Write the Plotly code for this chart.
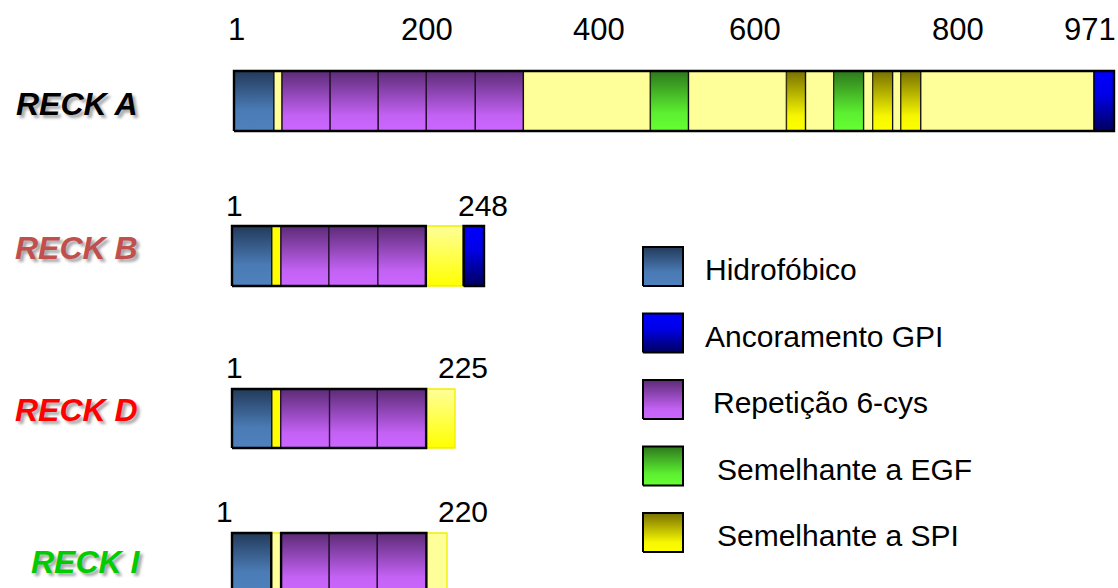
import plotly.graph_objects as go

W, H = 1118, 588
OFF = 0
FONT = "Liberation Sans, Arial, Helvetica, sans-serif"

# ---------------- data ----------------
protein_names = ["RECK A", "RECK B", "RECK D", "RECK I"]
protein_colors = ["#000000", "#c0504d", "#ff0000", "#00cc00"]
protein_lengths = [971, 248, 225, 220]

# domain boundaries (aa) and domain types
# H hidrofóbico, G GPI, C 6-cys, E EGF, S SPI, L/B/Y/P yellow linker regions
reck_a_bounds = [1, 45, 54, 107, 160, 213, 267, 320, 460, 502, 610, 631, 662,
                 695, 705, 727, 736, 758, 949, 971]
reck_a_types = ["H", "L", "C", "C", "C", "C", "C", "L", "E", "L", "S", "L",
                "E", "L", "S", "L", "S", "L", "G"]
reck_b_bounds = [1, 40, 49, 96, 144, 191, 228, 248]
reck_b_types = ["H", "B", "C", "C", "C", "Y", "G"]
reck_d_bounds = [1, 41, 50, 99, 147, 196, 225]
reck_d_types = ["H", "B", "C", "C", "C", "Y"]
reck_i_bounds = [1, 41, 51, 100, 149, 199, 220]
reck_i_types = ["H", "P", "C", "C", "C", "P"]

# scale labels above RECK A (label text, position on the aa axis)
scale_labels = ["1", "200", "400", "600", "800", "971"]
scale_label_pos = [4, 214, 403, 575, 799, 945]

legend_names = ["Hidrofóbico", "Ancoramento GPI", "Repetição 6-cys",
                "Semelhante a EGF", "Semelhante a SPI"]
legend_types = ["H", "G", "C", "E", "S"]

# ---------------- styles ----------------
STYLE = {
    "H": dict(scale=[[0, "#4f81bd"], [0.35, "#4a7bb5"], [1, "#233a5a"]], line="#16202c"),
    "G": dict(scale=[[0, "#00005e"], [0.6, "#0000e6"], [1, "#0000ff"]], line="#000010"),
    "C": dict(scale=[[0, "#cc66ff"], [0.25, "#c462f5"], [1, "#5c2b76"]], line="#24102c"),
    "E": dict(scale=[[0, "#66ff33"], [0.3, "#5cef30"], [1, "#2c781c"]], line="#1a3210"),
    "S": dict(scale=[[0, "#ffff00"], [0.25, "#f6f600"], [1, "#787000"]], line="#35320c"),
    "L": dict(solid="#ffff99", line="#111111"),
    "B": dict(solid="#ffff00", line="#111111"),
    "Y": dict(scale=[[0, "#ffff00"], [1, "#ffff99"]], line="#eeee00"),
    "P": dict(solid="#ffff99", line="#eeee00"),
}

# layout (pixel extents of each bar in the picture: x0, x1, top, bottom)
bar_px = [(234, 1114, 71, 131), (232, 484, 226, 286),
          (232, 455, 389, 448), (232, 447, 533, 592)]
label_px = [(76, 104), (76, 248), (76, 410), (86, 562)]
short_num_y = [205, 367, 511]
short_start_shift = [2, 2, -8]
short_end_shift = [-1, 8, 16]
scale_y = 29
PAD = 4


def fx(px):
    return (px - OFF) / W


def fy(py):
    return 1 - (py - OFF) / H


fig = go.Figure()
layout_axes = {}
all_bounds = [reck_a_bounds, reck_b_bounds, reck_d_bounds, reck_i_bounds]
all_types = [reck_a_types, reck_b_types, reck_d_types, reck_i_types]


def rect(x0, x1):
    return [x0, x1, x1, x0, x0], [0, 0, 1, 1, 0]


for i, (bounds, types) in enumerate(zip(all_bounds, all_types)):
    n = i + 1
    xs = "" if n == 1 else str(n)
    px0, px1, pt, pb = bar_px[i]
    L = protein_lengths[i]
    kx = (L - 1) / (px1 - px0)
    xdom = [fx(px0 - PAD), min(1.0, fx(px1 + PAD))]
    xr = [1 - PAD * kx, L + PAD * kx]
    if px1 + PAD - OFF > W:
        xr[1] = L + (W + OFF - px1) * kx
    ky = 1 / (pb - pt)
    bot_px = pb + PAD
    top_px = pt - PAD
    y_lo = 0 - PAD * ky
    if bot_px - OFF > H:
        bot_px = H + OFF
        y_lo = 0 + (pb - bot_px) * ky
    ydom = [fy(bot_px), fy(top_px)]
    yr = [y_lo, 1 + PAD * ky]
    layout_axes["xaxis" + xs] = dict(domain=xdom, range=xr, visible=False,
                                     anchor="y" + xs, fixedrange=True)
    layout_axes["yaxis" + xs] = dict(domain=ydom, range=yr, visible=False,
                                     anchor="x" + xs, fixedrange=True)
    for s, e, t in zip(bounds[:-1], bounds[1:], types):
        st = STYLE[t]
        x, y = rect(s, e)
        kw = dict(x=x, y=y, mode="lines", fill="toself",
                  line=dict(color=st["line"], width=1.3),
                  xaxis="x" + xs, yaxis="y" + xs, hoverinfo="skip",
                  showlegend=False)
        if "scale" in st:
            kw["fillgradient"] = dict(type="vertical", colorscale=st["scale"],
                                      start=0, stop=1)
        else:
            kw["fillcolor"] = st["solid"]
        fig.add_trace(go.Scatter(**kw))
    # black outlines around runs of non-yellow-gradient domains
    runs = []
    cur = None
    for s, e, t in zip(bounds[:-1], bounds[1:], types):
        if t in ("Y", "P"):
            if cur:
                runs.append(cur)
                cur = None
        else:
            cur = [cur[0], e] if cur else [s, e]
    if cur:
        runs.append(cur)
    for r0, r1 in runs:
        x, y = rect(r0, r1)
        fig.add_trace(go.Scatter(x=x, y=y, mode="lines",
                                 line=dict(color="#000000", width=2.4),
                                 xaxis="x" + xs, yaxis="y" + xs,
                                 hoverinfo="skip", showlegend=False))

# legend subplot (picture-pixel coordinates, y measured upward)
layout_axes["xaxis5"] = dict(domain=[0, 1], range=[OFF, W + OFF], visible=False,
                             anchor="y5", fixedrange=True)
layout_axes["yaxis5"] = dict(domain=[0, 1], range=[-OFF, H - OFF], visible=False,
                             anchor="x5", fixedrange=True)
leg_x0, leg_w, leg_top0, leg_step, leg_h = 643, 40, 247, 66.5, 39
leg_text_x = [703, 703, 711, 715, 715]
annotations = []
for j, (name, t) in enumerate(zip(legend_names, legend_types)):
    top = H - (leg_top0 + j * leg_step)
    bot = top - leg_h
    st = STYLE[t]
    fig.add_trace(go.Scatter(
        x=[leg_x0, leg_x0 + leg_w, leg_x0 + leg_w, leg_x0, leg_x0],
        y=[bot, bot, top, top, bot], mode="lines", fill="toself",
        fillgradient=dict(type="vertical", colorscale=st["scale"],
                          start=bot, stop=top),
        line=dict(color="#000000", width=2), xaxis="x5", yaxis="y5",
        hoverinfo="skip", showlegend=False))
    annotations.append(dict(text=name, x=leg_text_x[j], y=(top + bot) / 2 - 3,
                            xref="x5", yref="y5", xanchor="left",
                            yanchor="middle", showarrow=False,
                            font=dict(family=FONT, size=30, color="#000000")))

# protein names (with soft shadow)
for i, name in enumerate(protein_names):
    cx, cy = label_px[i]
    annotations.append(dict(text="<b><i>" + name + "</i></b>",
                            x=fx(cx), y=fy(cy), xref="paper",
                            yref="paper", xanchor="center", yanchor="middle",
                            showarrow=False,
                            font=dict(family=FONT, size=32, color=protein_colors[i],
                                      shadow="3px 3px 3px rgba(0,0,0,0.35)")))

# scale labels above RECK A
for lab, pos in zip(scale_labels, scale_label_pos):
    annotations.append(dict(text=lab, x=pos, y=fy(scale_y), xref="x",
                            yref="paper", xanchor="center", yanchor="middle",
                            showarrow=False,
                            font=dict(family=FONT, size=31, color="#000000")))

# start/end labels for short proteins
for k in range(3):
    ax = "x" + str(k + 2)
    yv = fy(short_num_y[k])
    L = protein_lengths[k + 1]
    for txt, pos, sh in [("1", 1, short_start_shift[k]),
                         (str(L), L, short_end_shift[k])]:
        annotations.append(dict(text=txt, x=pos, y=yv, xref=ax, yref="paper",
                                xanchor="center", yanchor="middle", xshift=sh,
                                showarrow=False,
                                font=dict(family=FONT, size=30, color="#000000")))

fig.update_layout(width=W, height=H, margin=dict(l=0, r=0, t=0, b=0),
                  paper_bgcolor="#ffffff", plot_bgcolor="rgba(0,0,0,0)",
                  showlegend=False, annotations=annotations, **layout_axes)

fig.write_html("out.html", config={"displayModeBar": False},
               post_script="document.body.style.margin='0';"
                           "document.body.style.overflow='hidden';")
